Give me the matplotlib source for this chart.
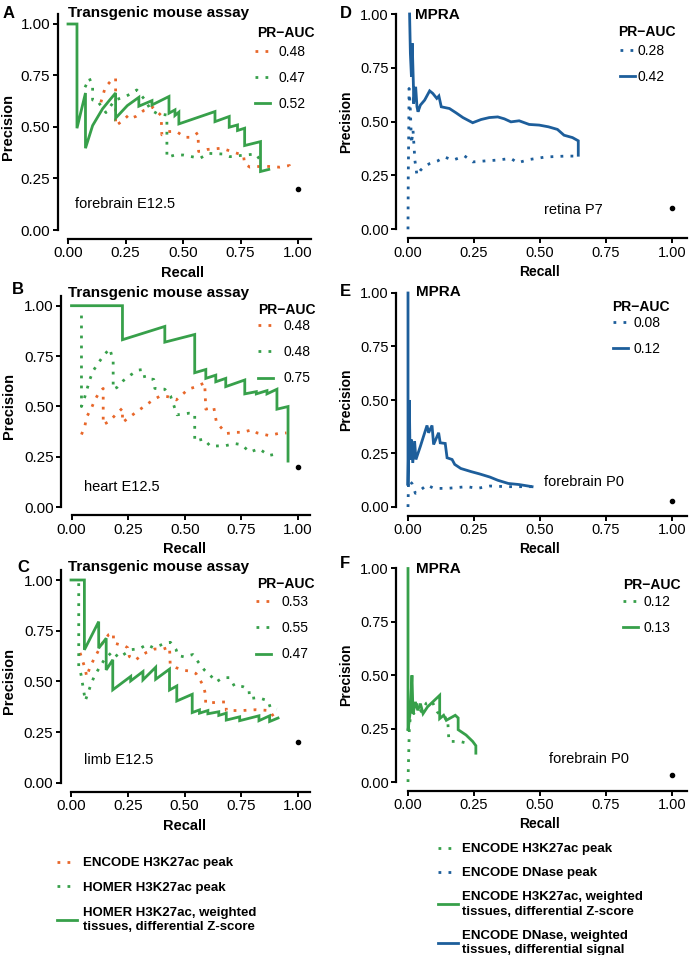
import matplotlib
matplotlib.use('Agg')
import matplotlib.pyplot as plt

plt.rcParams['font.family'] = ['Liberation Sans', 'DejaVu Sans']

W, H = 693, 955

ORANGE = '#e8672a'
GREEN = '#37a04a'
BLUE = '#1d5e9b'
DOT = (0, (1, 2.6))

# ---- panel A: transgenic mouse assay, forebrain E12.5
a_enc_rec = [0.143, 0.162, 0.190, 0.207, 0.207, 0.207, 0.233, 0.262, 0.276, 0.296, 0.329, 0.368, 0.405, 0.408,
             0.436, 0.472, 0.508, 0.536, 0.565, 0.568, 0.605, 0.637, 0.668, 0.763, 0.768, 0.791, 0.851, 0.920,
             0.963, 0.966]
a_enc_prec = [0.62, 0.693, 0.728, 0.737, 0.693, 0.507, 0.526, 0.556, 0.543, 0.552, 0.580, 0.596, 0.556, 0.462,
              0.478, 0.478, 0.450, 0.450, 0.472, 0.381, 0.391, 0.394, 0.397, 0.362, 0.321, 0.305, 0.310, 0.305,
              0.313, 0.278]
a_hom_rec = [0.074, 0.093, 0.107, 0.107, 0.125, 0.165, 0.204, 0.241, 0.277, 0.299, 0.335, 0.360, 0.386, 0.430,
             0.430, 0.465, 0.501, 0.574, 0.610, 0.671, 0.704, 0.770, 0.817, 0.835]
a_hom_prec = [0.693, 0.736, 0.699, 0.631, 0.631, 0.570, 0.631, 0.644, 0.663, 0.680, 0.631, 0.583, 0.566, 0.558,
              0.353, 0.364, 0.364, 0.348, 0.372, 0.369, 0.356, 0.364, 0.369, 0.340]
a_z_rec = [0.0, 0.039, 0.039, 0.076, 0.076, 0.107, 0.150, 0.179, 0.207, 0.207, 0.258, 0.308, 0.308, 0.365, 0.365,
           0.439, 0.439, 0.465, 0.465, 0.482, 0.482, 0.639, 0.639, 0.701, 0.701, 0.737, 0.737, 0.768, 0.768,
           0.837, 0.837, 0.873]
a_z_prec = [1.0, 1.0, 0.494, 0.665, 0.397, 0.507, 0.588, 0.628, 0.665, 0.543, 0.604, 0.644, 0.601, 0.628, 0.607,
            0.648, 0.567, 0.583, 0.556, 0.572, 0.515, 0.575, 0.526, 0.551, 0.499, 0.510, 0.483, 0.494, 0.410,
            0.429, 0.284, 0.294]
a_auc = ['0.48', '0.47', '0.52']

# ---- panel B: heart E12.5
b_enc_rec = [0.044, 0.059, 0.066, 0.088, 0.103, 0.122, 0.140, 0.140, 0.166, 0.199, 0.225, 0.225, 0.257, 0.290,
             0.324, 0.360, 0.393, 0.426, 0.463, 0.515, 0.551, 0.588, 0.593, 0.628, 0.640, 0.684, 0.725, 0.754,
             0.799, 0.819, 0.872, 0.912, 0.949]
b_enc_prec = [0.360, 0.401, 0.445, 0.491, 0.532, 0.568, 0.589, 0.409, 0.425, 0.463, 0.491, 0.420, 0.447, 0.475,
              0.502, 0.532, 0.552, 0.548, 0.532, 0.585, 0.598, 0.617, 0.486, 0.496, 0.420, 0.365, 0.371, 0.371,
              0.384, 0.368, 0.355, 0.365, 0.368]
b_hom_rec = [0.044, 0.044, 0.059, 0.081, 0.096, 0.122, 0.143, 0.169, 0.184, 0.184, 0.201, 0.228, 0.260, 0.294,
             0.316, 0.324, 0.363, 0.368, 0.412, 0.437, 0.456, 0.466, 0.519, 0.544, 0.544, 0.584, 0.613, 0.681,
             0.721, 0.750, 0.787, 0.828, 0.872, 0.916]
b_hom_prec = [0.951, 0.499, 0.548, 0.634, 0.677, 0.721, 0.754, 0.787, 0.726, 0.585, 0.594, 0.627, 0.655, 0.680,
              0.683, 0.639, 0.634, 0.589, 0.585, 0.552, 0.491, 0.458, 0.466, 0.463, 0.327, 0.338, 0.302, 0.305,
              0.315, 0.310, 0.273, 0.289, 0.256, 0.266]
b_z_rec = [0.0, 0.225, 0.225, 0.412, 0.412, 0.544, 0.544, 0.593, 0.593, 0.637, 0.637, 0.681, 0.681, 0.765, 0.765,
           0.816, 0.816, 0.863, 0.863, 0.907, 0.907, 0.956, 0.956]
b_z_prec = [1.0, 1.0, 0.831, 0.897, 0.819, 0.857, 0.667, 0.683, 0.639, 0.655, 0.622, 0.639, 0.598, 0.631, 0.562,
            0.573, 0.562, 0.578, 0.562, 0.585, 0.486, 0.499, 0.228]
b_auc = ['0.48', '0.48', '0.75']

# ---- panel C: limb E12.5
c_enc_rec = [0.040, 0.063, 0.069, 0.084, 0.103, 0.122, 0.143, 0.166, 0.187, 0.187, 0.213, 0.235, 0.250, 0.257,
             0.284, 0.309, 0.334, 0.368, 0.407, 0.434, 0.437, 0.463, 0.496, 0.529, 0.551, 0.584, 0.593, 0.593,
             0.625, 0.657, 0.684, 0.684, 0.754, 0.816, 0.875, 0.907]
c_enc_prec = [0.641, 0.560, 0.524, 0.572, 0.615, 0.654, 0.698, 0.731, 0.739, 0.690, 0.682, 0.677, 0.666, 0.623,
              0.605, 0.628, 0.644, 0.660, 0.660, 0.670, 0.584, 0.568, 0.555, 0.551, 0.539, 0.478, 0.432, 0.393,
              0.396, 0.399, 0.399, 0.357, 0.357, 0.361, 0.357, 0.302]
c_hom_rec = [0.034, 0.034, 0.044, 0.063, 0.088, 0.103, 0.125, 0.147, 0.184, 0.210, 0.265, 0.301, 0.334, 0.363,
             0.390, 0.416, 0.438, 0.463, 0.471, 0.500, 0.537, 0.563, 0.588, 0.618, 0.640, 0.669, 0.699, 0.721,
             0.757, 0.784, 0.787, 0.824, 0.868, 0.878, 0.907]
c_hom_prec = [0.984, 0.576, 0.535, 0.405, 0.486, 0.527, 0.568, 0.608, 0.649, 0.617, 0.657, 0.661, 0.682, 0.666,
              0.677, 0.690, 0.693, 0.657, 0.628, 0.621, 0.633, 0.592, 0.556, 0.525, 0.498, 0.519, 0.519, 0.475,
              0.475, 0.459, 0.416, 0.421, 0.405, 0.372, 0.364]
c_z_rec = [0.0, 0.059, 0.059, 0.122, 0.122, 0.155, 0.155, 0.184, 0.184, 0.263, 0.263, 0.317, 0.317, 0.373, 0.373,
           0.434, 0.434, 0.466, 0.466, 0.534, 0.534, 0.566, 0.566, 0.603, 0.603, 0.651, 0.651, 0.684, 0.684,
           0.743, 0.743, 0.828, 0.828, 0.875, 0.875, 0.912]
c_z_prec = [1.0, 1.0, 0.656, 0.795, 0.664, 0.713, 0.557, 0.607, 0.459, 0.525, 0.503, 0.549, 0.508, 0.570, 0.511,
            0.561, 0.458, 0.478, 0.404, 0.437, 0.347, 0.360, 0.344, 0.357, 0.341, 0.351, 0.333, 0.344, 0.310,
            0.326, 0.307, 0.331, 0.307, 0.331, 0.303, 0.320]
c_auc = ['0.53', '0.55', '0.47']

# ---- panel D: MPRA, retina P7
d_peak_rec = [0.0, 0.001, 0.003, 0.004, 0.009, 0.013, 0.019, 0.023, 0.026, 0.034, 0.047, 0.063, 0.082, 0.113,
              0.138, 0.170, 0.214, 0.245, 0.296, 0.333, 0.390, 0.415, 0.459, 0.522, 0.597, 0.645]
d_peak_prec = [0.0, 0.243, 0.476, 0.654, 0.553, 0.398, 0.460, 0.383, 0.321, 0.251, 0.274, 0.293, 0.305, 0.318,
               0.336, 0.321, 0.341, 0.313, 0.318, 0.321, 0.329, 0.309, 0.324, 0.336, 0.340, 0.340]
d_sig_rec = [0.006, 0.009, 0.013, 0.016, 0.021, 0.021, 0.029, 0.034, 0.038, 0.047, 0.063, 0.082, 0.094, 0.109,
             0.117, 0.126, 0.157, 0.182, 0.208, 0.245, 0.277, 0.308, 0.340, 0.365, 0.390, 0.421, 0.459, 0.497,
             0.532, 0.566, 0.591, 0.623, 0.645, 0.645]
d_sig_prec = [1.0, 0.817, 0.709, 0.864, 0.647, 0.584, 0.662, 0.569, 0.546, 0.577, 0.600, 0.643, 0.631, 0.608,
              0.619, 0.569, 0.561, 0.541, 0.519, 0.495, 0.510, 0.519, 0.522, 0.513, 0.499, 0.504, 0.487, 0.484,
              0.476, 0.464, 0.437, 0.426, 0.411, 0.344]
d_auc = ['0.28', '0.42']

# ---- panel E: MPRA, forebrain P0 (DNase)
e_peak_rec = [0.0, 0.002, 0.015, 0.028, 0.047, 0.072, 0.098, 0.148, 0.224, 0.262, 0.311, 0.374, 0.47]
e_peak_prec = [0.0, 0.126, 0.11, 0.064, 0.079, 0.103, 0.087, 0.087, 0.095, 0.087, 0.098, 0.095, 0.095]
e_sig_rec = [0.0, 0.0, 0.005, 0.008, 0.013, 0.018, 0.025, 0.030, 0.047, 0.059, 0.072, 0.078, 0.091, 0.097, 0.116,
             0.122, 0.141, 0.148, 0.167, 0.177, 0.20, 0.24, 0.27, 0.31, 0.34, 0.38, 0.42, 0.47]
e_sig_prec = [1.0, 0.1, 0.5, 0.222, 0.315, 0.206, 0.308, 0.222, 0.284, 0.331, 0.381, 0.347, 0.381, 0.292, 0.347,
              0.300, 0.297, 0.230, 0.222, 0.199, 0.18, 0.165, 0.155, 0.14, 0.125, 0.11, 0.105, 0.095]
e_auc = ['0.08', '0.12']

# ---- panel F: MPRA, forebrain P0 (H3K27ac)
f_peak_rec = [0.0, 0.003, 0.005, 0.012, 0.022, 0.035, 0.05, 0.07, 0.09, 0.11, 0.13, 0.15, 0.155, 0.196, 0.23]
f_peak_prec = [0.0, 0.15, 0.25, 0.35, 0.32, 0.37, 0.33, 0.37, 0.38, 0.33, 0.30, 0.30, 0.19, 0.19, 0.18]
f_sig_rec = [0.0, 0.0, 0.009, 0.015, 0.019, 0.028, 0.037, 0.047, 0.057, 0.074, 0.120, 0.120, 0.135, 0.145,
             0.179, 0.19, 0.19, 0.22, 0.245, 0.257, 0.257]
f_sig_prec = [1.0, 0.24, 0.336, 0.5, 0.32, 0.375, 0.336, 0.367, 0.32, 0.352, 0.406, 0.297, 0.3125, 0.289,
              0.3125, 0.30, 0.245, 0.22, 0.19, 0.17, 0.135]
f_auc = ['0.12', '0.13']

# random-classifier baseline point at recall 1
base_prec = [0.2, 0.2, 0.2, 0.1, 0.03, 0.033]

tissues = ['forebrain E12.5', 'heart E12.5', 'limb E12.5', 'retina P7', 'forebrain P0', 'forebrain P0']
titles = ['Transgenic mouse assay'] * 3 + ['MPRA'] * 3
letters = ['A', 'B', 'C', 'D', 'E', 'F']
ticks = [0, 0.25, 0.5, 0.75, 1.0]
tick_labels = ['0.00', '0.25', '0.50', '0.75', '1.00']

left_legend = ['ENCODE H3K27ac peak', 'HOMER H3K27ac peak',
               'HOMER H3K27ac, weighted\ntissues, differential Z-score']
right_legend = ['ENCODE H3K27ac peak', 'ENCODE DNase peak',
                'ENCODE H3K27ac, weighted\ntissues, differential Z-score',
                'ENCODE DNase, weighted\ntissues, differential signal']


def fx(px):
    return px / W


def fy(py):
    return 1 - py / H


fig = plt.figure(figsize=(W / 100, H / 100), dpi=100)

LO, HI = -0.06, 1.07


def make_ax(x0, x1, y0, y1):
    # x0/x1: pixel of recall 0/1, y0/y1: pixel (from top) of precision 0/1
    sx, sy = x1 - x0, y0 - y1
    left, right = x0 + LO * sx, x0 + HI * sx
    bot, top = y0 - LO * sy, y0 - HI * sy
    ax = fig.add_axes([fx(left), fy(bot), (right - left) / W, (bot - top) / H])
    ax.set_xlim(LO, HI)
    ax.set_ylim(LO, HI)
    ax.patch.set_alpha(0)
    return ax


def style_ax(ax, ytop, fs):
    for s in ['top', 'right']:
        ax.spines[s].set_visible(False)
    ax.spines['left'].set_position(('data', -0.045))
    ax.spines['bottom'].set_position(('data', -0.042))
    ax.spines['left'].set_bounds(0, ytop)
    ax.spines['bottom'].set_bounds(0, 1.055)
    for s in ['left', 'bottom']:
        ax.spines[s].set_linewidth(1.6)
    ax.set_xticks(ticks, tick_labels)
    ax.set_yticks(ticks, tick_labels)
    ax.tick_params(width=1.4, length=3.8, pad=1.5, labelsize=fs, color='black')


# layout: (x0, x1, y0, y1) pixel positions of the data range per panel
layout = [(68, 298, 230, 24), (71.5, 298, 507, 305.7), (71, 298, 783, 580),
          (408, 672, 229.3, 14), (408, 672, 507, 293), (408, 672, 782, 568.5)]

curves = [
    [(a_enc_rec, a_enc_prec, ORANGE, DOT), (a_hom_rec, a_hom_prec, GREEN, DOT), (a_z_rec, a_z_prec, GREEN, '-')],
    [(b_enc_rec, b_enc_prec, ORANGE, DOT), (b_hom_rec, b_hom_prec, GREEN, DOT), (b_z_rec, b_z_prec, GREEN, '-')],
    [(c_enc_rec, c_enc_prec, ORANGE, DOT), (c_hom_rec, c_hom_prec, GREEN, DOT), (c_z_rec, c_z_prec, GREEN, '-')],
    [(d_peak_rec, d_peak_prec, BLUE, DOT), (d_sig_rec, d_sig_prec, BLUE, '-')],
    [(e_peak_rec, e_peak_prec, BLUE, DOT), (e_sig_rec, e_sig_prec, BLUE, '-')],
    [(f_peak_rec, f_peak_prec, GREEN, DOT), (f_sig_rec, f_sig_prec, GREEN, '-')],
]
aucs = [a_auc, b_auc, c_auc, d_auc, e_auc, f_auc]

# text placements (pixels)
title_pos = [(68, 13), (68, 293), (68, 567), (415, 15), (416, 292), (416, 569)]
letter_pos = [(3, 13), (12, 290), (17, 567), (340, 13), (340, 291), (340, 563)]
tissue_pos = [(0.25, 0.126), (0.22, 0.10), (0.21, 0.113), (0.625, 0.09), (0.667, 0.117), (0.685, 0.107)]
ylab_x = [15, 16.5, 16.5, 353, 353, 353]
xlab_y = [266, 541.7, 819, 265, 541.7, 816.7]
leg_title = [(257, 33), (258, 310), (257, 584), (618, 31.7), (612, 306.7), (623, 585)]
leg_key = [(255, 52.7), (258, 327), (256, 603), (620, 51.7), (613, 324), (623, 602.7)]
leg_pad = [0.6, 0.75, 0.7, 0.15, 0.4, 0.35]

handles = []
for i in range(6):
    x0, x1, y0, y1 = layout[i]
    ax = make_ax(x0, x1, y0, y1)
    right_col = i >= 3
    style_ax(ax, 1.0 if right_col else 1.05, 10.5 if right_col else 11)
    hs = []
    for rec, prec, col, ls in curves[i]:
        h, = ax.plot(rec, prec, color=col, lw=2.0, linestyle=ls, solid_joinstyle='miter')
        hs.append(h)
    handles.append(hs)
    ax.plot([1.0], [base_prec[i]], 'o', color='black', ms=3)
    ax.text(tissue_pos[i][0], tissue_pos[i][1], tissues[i], ha='center', va='center', fontsize=10.5)

    fig.text(fx(title_pos[i][0]), fy(title_pos[i][1]), titles[i], fontsize=11, fontweight='bold', va='center')
    fig.text(fx(letter_pos[i][0]), fy(letter_pos[i][1]), letters[i], fontsize=12, fontweight='bold', va='center')

    ax.set_ylabel('Precision', fontsize=10.5 if not right_col else 10, fontweight='bold')
    ax.set_xlabel('Recall', fontsize=10.5 if not right_col else 10, fontweight='bold')
    ax.yaxis.set_label_coords(fx(ylab_x[i]), fy((y0 + y1) / 2), transform=fig.transFigure)
    ax.xaxis.set_label_coords(fx((x0 + x1) / 2), fy(xlab_y[i]), transform=fig.transFigure)

    fig.text(fx(leg_title[i][0]), fy(leg_title[i][1]), 'PR\u2212AUC', fontsize=10, fontweight='bold', va='center')
    ax.legend(hs, aucs[i], loc='upper left', bbox_to_anchor=(fx(leg_key[i][0]), fy(leg_key[i][1] - 8)),
              bbox_transform=fig.transFigure, frameon=False, borderpad=0, borderaxespad=0,
              handlelength=1.1, handletextpad=leg_pad[i], labelspacing=0.88, fontsize=10)

leg1 = fig.legend(handles[0], left_legend, loc='upper left', bbox_to_anchor=(fx(57), fy(857)),
                  frameon=False, borderpad=0, borderaxespad=0, handlelength=1.5, handletextpad=0.45,
                  labelspacing=0.95, prop={'size': 9.5, 'weight': 'bold'})
leg2 = fig.legend([handles[5][0], handles[3][0], handles[5][1], handles[3][1]], right_legend,
                  loc='upper left', bbox_to_anchor=(fx(438), fy(843)),
                  frameon=False, borderpad=0, borderaxespad=0, handlelength=1.5, handletextpad=0.3,
                  labelspacing=0.9, prop={'size': 9.5, 'weight': 'bold'})
for lg in (leg1, leg2):
    for t in lg.get_texts():
        t.set_linespacing(1.3)

fig.savefig('out.png', dpi=100)
